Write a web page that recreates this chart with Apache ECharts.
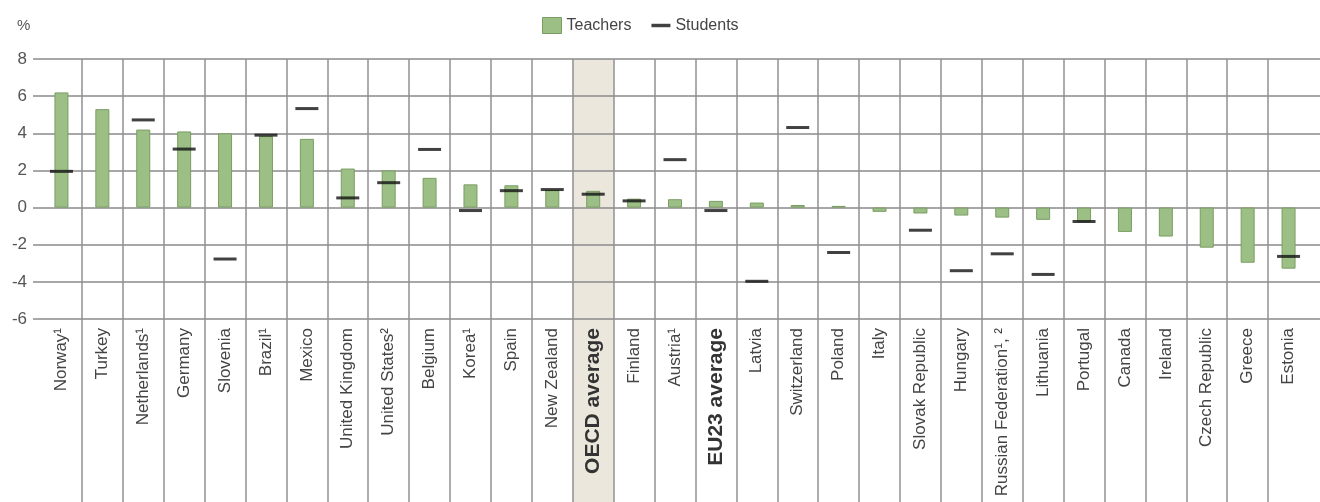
<!DOCTYPE html>
<html>
<head>
<meta charset="utf-8">
<script src="https://cdn.jsdelivr.net/npm/echarts@6/dist/echarts.min.js"></script>
<style>
html,body{margin:0;padding:0;background:#fff;}
#chart{width:1320px;height:502px;}
</style>
</head>
<body>
<div id="chart"></div>
<script>
const categories = ['Norway¹','Turkey','Netherlands¹','Germany','Slovenia','Brazil¹','Mexico','United Kingdom','United States²','Belgium','Korea¹','Spain','New Zealand','OECD average','Finland','Austria¹','EU23 average','Latvia','Switzerland','Poland','Italy','Slovak Republic','Hungary','Russian Federation¹, ²','Lithuania','Portugal','Canada','Ireland','Czech Republic','Greece','Estonia'];
const teachers = [6.2,5.3,4.2,4.1,4.0,3.85,3.7,2.1,2.0,1.6,1.25,1.2,0.95,0.9,0.48,0.45,0.36,0.27,0.14,0.09,-0.23,-0.32,-0.43,-0.54,-0.66,-0.79,-1.31,-1.56,-2.16,-2.97,-3.29];
const students = [1.95,null,4.72,3.15,-2.77,3.9,5.33,0.52,1.34,3.13,-0.16,0.91,0.97,0.72,0.36,2.58,-0.16,-3.97,4.31,-2.42,null,-1.22,-3.4,-2.49,-3.6,-0.75,null,null,null,null,-2.63];
const yTicks = [-6,-4,-2,0,2,4,6,8];
const boldCategories = ['OECD average','EU23 average'];
const highlighted = 'OECD average';

const FONT = "'Liberation Sans',Arial,sans-serif";
const band = categories.map(c => c === highlighted ? 1 : null);
const yMin = yTicks[0], yMax = yTicks[yTicks.length-1];
const vLine = {show:true,interval:0,showMinLine:false,showMaxLine:false,lineStyle:{color:'#909090',width:1.5}};

const chart = echarts.init(document.getElementById('chart'));
chart.setOption({
  animation:false,
  title:{text:'%',left:12,top:13,textStyle:{fontFamily:FONT,fontSize:15,fontWeight:'normal',color:'#555'}},
  legend:{
    left:537, top:12, itemWidth:19, itemHeight:16, itemGap:20,
    textStyle:{fontFamily:FONT,fontSize:16,color:'#444'},
    data:[
      {name:'Teachers',icon:'rect',itemStyle:{color:'#9bbf85',borderColor:'#7a9d63',borderWidth:1}},
      {name:'Students',icon:'path://M0,0 H22 V4 H0 Z',itemStyle:{color:'#111'}}
    ]
  },
  grid:[
    {left:41,right:11,top:59,bottom:183,outerBoundsMode:'none',containLabel:false},
    {left:41,right:11,top:319,bottom:0,outerBoundsMode:'none',containLabel:false},
    {left:33,right:0,top:59,bottom:183,outerBoundsMode:'none',containLabel:false}
  ],
  xAxis:[
    {type:'category',gridIndex:0,data:categories,
     axisLine:{show:false},axisTick:{show:false,interval:0},
     splitLine:vLine,
     axisLabel:{interval:0,rotate:90,margin:9,fontFamily:FONT,fontSize:17,color:'#444',
       formatter:v => boldCategories.includes(v) ? '{b|'+v+'}' : v,
       rich:{b:{fontFamily:FONT,fontWeight:'bold',fontSize:21,color:'#333'}}}},
    {type:'category',gridIndex:0,data:categories,show:false},
    {type:'category',gridIndex:1,data:categories,
     axisLine:{show:false},axisTick:{show:false,interval:0},axisLabel:{show:false,interval:0},
     splitLine:vLine},
    {type:'category',gridIndex:2,data:categories,show:false}
  ],
  yAxis:[
    {type:'value',gridIndex:0,min:yMin,max:yMax,interval:2,
     axisLine:{show:false},axisTick:{show:false},splitLine:{show:false},
     axisLabel:{margin:14,fontFamily:FONT,fontSize:17,color:'#555'}},
    {type:'value',gridIndex:0,min:0,max:1,show:false,splitLine:{show:false}},
    {type:'value',gridIndex:1,min:0,max:1,show:false,splitLine:{show:false}},
    {type:'value',gridIndex:2,min:yMin,max:yMax,interval:2,
     axisLine:{show:false},axisTick:{show:false},axisLabel:{show:false},
     splitLine:{show:true,lineStyle:{color:'#8a8a8a',width:1.5}}}
  ],
  series:[
    {type:'bar',xAxisIndex:1,yAxisIndex:1,data:band,barWidth:'100%',z:-1,silent:true,
     itemStyle:{color:'#ece7dd'}},
    {type:'bar',xAxisIndex:2,yAxisIndex:2,data:band,barWidth:'100%',z:-1,silent:true,
     itemStyle:{color:'#ece7dd'}},
    {name:'Teachers',type:'bar',xAxisIndex:0,yAxisIndex:0,data:teachers,barWidth:14,
     itemStyle:{color:'#9bbf85',borderColor:'#7a9d63',borderWidth:1}},
    {name:'Students',type:'scatter',xAxisIndex:0,yAxisIndex:0,data:students,
     symbol:'rect',symbolSize:[23,3],itemStyle:{color:'#111'},z:5}
  ]
});
</script>
</body>
</html>
